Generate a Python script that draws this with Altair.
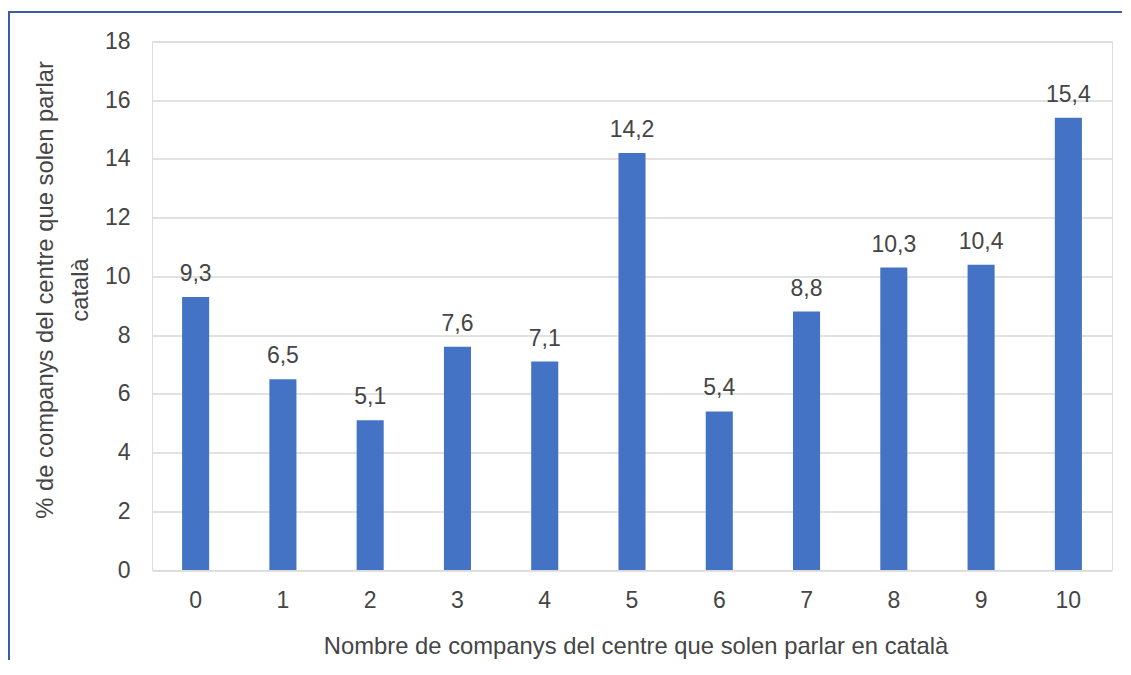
import altair as alt
import pandas as pd

categories = ["0", "1", "2", "3", "4", "5", "6", "7", "8", "9", "10"]
values = [9.3, 6.5, 5.1, 7.6, 7.1, 14.2, 5.4, 8.8, 10.3, 10.4, 15.4]
y_ticks = [0, 2, 4, 6, 8, 10, 12, 14, 16, 18]

df = pd.DataFrame({
    "cat": categories,
    "val": values,
    "label": [f"{v:.1f}".replace(".", ",") for v in values],
})

FONT = "Liberation Sans"
TXT = "#454545"

x_enc = alt.X(
    "cat:N", sort=categories,
    scale=alt.Scale(paddingInner=0.69, paddingOuter=0.345),
    axis=alt.Axis(
        title="Nombre de companys del centre que solen parlar en català",
        labelAngle=0, labelFontSize=23, labelColor=TXT, labelFont=FONT,
        labelBaseline="alphabetic", labelPadding=37,
        ticks=False, tickSize=0, domain=False, grid=False,
        titleFontSize=23.8, titleColor=TXT, titleFont=FONT, titleFontWeight="normal",
        titleX=483.5, titleY=83.5, titleAlign="center", titleBaseline="alphabetic",
    ),
)
y_enc = alt.Y(
    "val:Q",
    scale=alt.Scale(domain=[0, 18], nice=False),
    axis=alt.Axis(
        values=y_ticks,
        title=["% de companys del centre que solen parlar", "català"],
        labelFontSize=23, labelColor=TXT, labelFont=FONT, labelPadding=22,
        ticks=False, tickSize=0, domain=False,
        grid=True, gridColor="#d9d9d9", gridWidth=1.5,
        titleFontSize=23.8, titleColor=TXT, titleFont=FONT, titleFontWeight="normal",
        titleAngle=270, titleX=-100, titleY=248, titleAlign="center",
        titleBaseline="alphabetic", titleLineHeight=35,
    ),
)

bars = alt.Chart(df).mark_bar(color="#4472C4").encode(x=x_enc, y=y_enc)
labels = alt.Chart(df).mark_text(
    baseline="alphabetic", dy=-16, fontSize=23, color=TXT, font=FONT
).encode(x=alt.X("cat:N", sort=categories), y="val:Q", text="label:N")

one = pd.DataFrame({"a": [0]})
border_left = alt.Chart(one).mark_rule(color="#3c5da6", strokeWidth=2).encode(
    x=alt.value(-143), y=alt.value(-29.5), y2=alt.value(700)
)
border_top = alt.Chart(one).mark_rule(color="#3c5da6", strokeWidth=2).encode(
    x=alt.value(-144), x2=alt.value(1200), y=alt.value(-29.5)
)

chart = alt.layer(bars, labels, border_left, border_top).properties(
    width=960, height=528.5,
    autosize=alt.AutoSizeParams(type="none"),
    padding={"left": 144, "top": 33.5, "right": 10, "bottom": 90},
).configure_view(strokeWidth=0).configure(background="white")

chart.save("out.html", embed_options={"renderer": "svg", "actions": False})
